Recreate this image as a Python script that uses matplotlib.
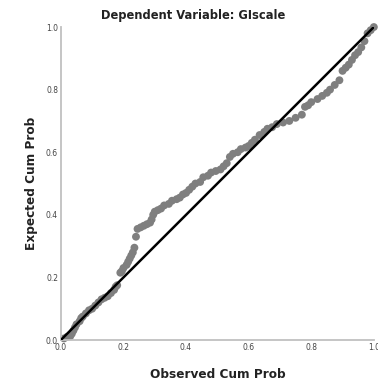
import numpy as np
import matplotlib.pyplot as plt

# observed / expected cumulative probabilities
observed = [0.01, 0.02, 0.03, 0.035, 0.04, 0.045, 0.05, 0.06, 0.065, 0.07,
            0.08, 0.09, 0.10, 0.11, 0.12, 0.13, 0.14, 0.15, 0.16, 0.17,
            0.175, 0.18, 0.19, 0.195, 0.20, 0.21, 0.215, 0.22, 0.225, 0.23,
            0.235, 0.24, 0.245, 0.255, 0.265, 0.275, 0.285, 0.29, 0.295, 0.30,
            0.31, 0.32, 0.33, 0.345, 0.355, 0.37, 0.38, 0.39, 0.40, 0.41,
            0.42, 0.43, 0.445, 0.455, 0.47, 0.48, 0.495, 0.51, 0.52, 0.53,
            0.54, 0.55, 0.565, 0.575, 0.59, 0.60, 0.61, 0.62, 0.635, 0.65,
            0.66, 0.675, 0.69, 0.71, 0.73, 0.75, 0.77, 0.78, 0.79, 0.80,
            0.82, 0.835, 0.85, 0.86, 0.875, 0.89, 0.90, 0.91, 0.92, 0.93,
            0.94, 0.95, 0.96, 0.97, 0.98, 0.99, 1.0]
expected = [0.005, 0.01, 0.012, 0.02, 0.03, 0.04, 0.05, 0.06, 0.07, 0.075,
            0.085, 0.095, 0.10, 0.11, 0.12, 0.13, 0.135, 0.14, 0.15, 0.16,
            0.17, 0.175, 0.215, 0.22, 0.23, 0.24, 0.25, 0.26, 0.27, 0.28,
            0.295, 0.33, 0.355, 0.36, 0.365, 0.37, 0.375, 0.385, 0.40, 0.41,
            0.415, 0.42, 0.43, 0.435, 0.445, 0.45, 0.455, 0.465, 0.47, 0.48,
            0.49, 0.50, 0.505, 0.52, 0.525, 0.535, 0.54, 0.545, 0.555, 0.565,
            0.585, 0.595, 0.60, 0.61, 0.615, 0.62, 0.63, 0.64, 0.655, 0.665,
            0.675, 0.68, 0.69, 0.695, 0.70, 0.71, 0.72, 0.745, 0.75, 0.76,
            0.77, 0.78, 0.79, 0.80, 0.815, 0.83, 0.86, 0.87, 0.88, 0.895,
            0.91, 0.92, 0.935, 0.955, 0.98, 0.99, 1.0]
ticks = [0.0, 0.2, 0.4, 0.6, 0.8, 1.0]

fig = plt.figure(figsize=(3.78, 3.81), dpi=100)
ax = fig.add_axes([0.161, 0.1076, 0.828, 0.8214])

ax.scatter(observed, expected, s=32, color='#7f7f7f', edgecolors='none',
           zorder=2, clip_on=False)
ax.plot([0, 1], [0, 1], color='black', lw=1.8, zorder=3)

ax.set_xlim(0, 1)
ax.set_ylim(0, 1)
ax.set_xticks(ticks)
ax.set_yticks(ticks)
ax.set_xticklabels([f'{t:.1f}' for t in ticks])
ax.set_yticklabels([f'{t:.1f}' for t in ticks])
ax.tick_params(length=0, labelsize=5.5, labelcolor='#444444', pad=2)

for s in ['top', 'right']:
    ax.spines[s].set_visible(False)
for s in ['left', 'bottom']:
    ax.spines[s].set_color('#c0c0c0')
    ax.spines[s].set_linewidth(1.3)

ax.set_xlabel('Observed Cum Prob', fontsize=8.7, fontweight='bold',
              color='#222222', labelpad=12)
ax.set_ylabel('Expected Cum Prob', fontsize=8.7, fontweight='bold',
              color='#222222', labelpad=6)
fig.text(0.51, 0.96, 'Dependent Variable: GIscale', ha='center', va='center',
         fontsize=8.3, fontweight='bold', color='#222222')

fig.savefig('out.png', dpi=100)
